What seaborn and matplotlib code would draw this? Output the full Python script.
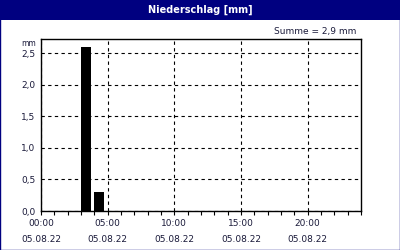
import matplotlib
matplotlib.use("Agg")
import matplotlib.pyplot as plt
import seaborn as sns
import pandas as pd
from matplotlib.patches import Rectangle
from matplotlib.ticker import MultipleLocator, FixedLocator

# data
hour_start = [3, 4]
precip_mm = [2.6, 0.3]
tick_hours = [0, 5, 10, 15, 20]
tick_labels = ["00:00\n05.08.22", "05:00\n05.08.22", "10:00\n05.08.22",
               "15:00\n05.08.22", "20:00\n05.08.22"]
y_ticks = [0.0, 0.5, 1.0, 1.5, 2.0, 2.5]
y_labels = ["0,0", "0,5", "1,0", "1,5", "2,0", "2,5"]
title = "Niederschlag [mm]"
summe = "Summe = 2,9 mm"

sns.set_theme(style="white")
plt.rcParams['font.family'] = ['DejaVu Sans']

navy = "#000080"
txt = "#1a1a3a"

fig = plt.figure(figsize=(4, 2.5), dpi=100)
fig.patch.set_facecolor("white")

# title bar and border
fig.add_artist(Rectangle((0, 0.92), 1, 0.08, transform=fig.transFigure,
                         facecolor=navy, edgecolor="none", zorder=0))
fig.add_artist(Rectangle((0.0012, 0.002), 0.9976, 0.996, transform=fig.transFigure,
                         facecolor="none", edgecolor=navy, linewidth=1.0, zorder=5))
fig.text(0.5, 0.96, title, color="white", fontsize=7, fontweight="bold",
         ha="center", va="center")
fig.text(0.89, 0.875, summe, color=txt, fontsize=6.5, ha="right", va="center")

ax = fig.add_axes([0.1025, 0.156, 0.8, 0.686])
width = 0.75
df = pd.DataFrame({"x": [h + width / 2 for h in hour_start], "y": precip_mm})
sns.barplot(data=df, x="x", y="y", native_scale=True, color="black",
            width=width, ax=ax, saturation=1, edgecolor="black", linewidth=0)

ax.set_xlim(0, 24)
ax.set_ylim(0, 2.72)
ax.set_xlabel("")
ax.set_ylabel("")
ax.xaxis.set_major_locator(FixedLocator(tick_hours))
ax.set_xticklabels(tick_labels)
ax.xaxis.set_minor_locator(MultipleLocator(1))
ax.set_yticks(y_ticks)
ax.set_yticklabels(y_labels)
ax.tick_params(axis="x", which="both", direction="out", length=3, width=0.8,
               color="black", labelsize=6.5, labelcolor=txt, pad=3, bottom=True)
ax.tick_params(axis="y", which="both", length=0, labelsize=6.5, labelcolor=txt, pad=4)
for lbl in ax.get_xticklabels():
    lbl.set_linespacing(1.9)

ax.grid(True, which="major", color="black", linestyle=(0, (3, 3)), linewidth=0.8)
ax.set_axisbelow(True)
for s in ax.spines.values():
    s.set_visible(True)
    s.set_color("black")
    s.set_linewidth(1.0)

ax.text(-0.015, 0.975, "mm", transform=ax.transAxes, fontsize=5.5, color=txt,
        ha="right", va="center")

fig.savefig("out.png", dpi=100, facecolor="white")
